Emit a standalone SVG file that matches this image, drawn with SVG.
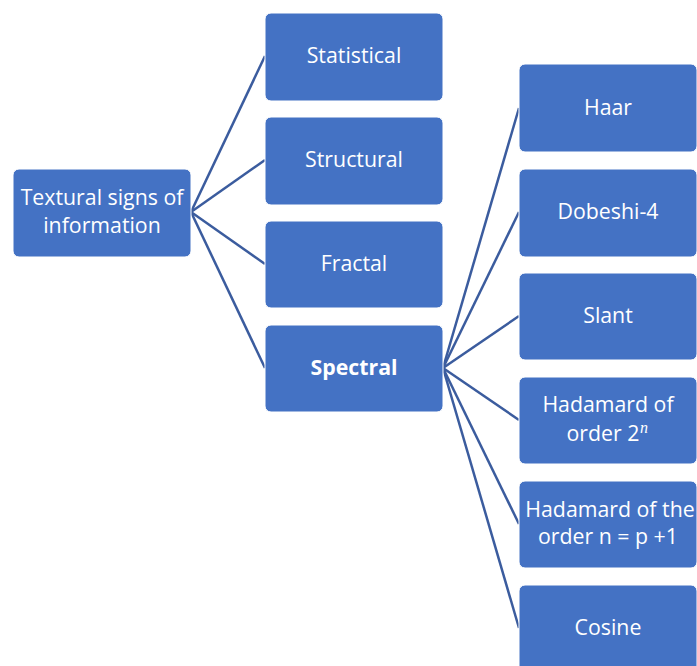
<svg xmlns="http://www.w3.org/2000/svg" width="697" height="666" viewBox="0 0 697 666">
<style>
.box{fill:#4472C4;stroke:#ffffff;stroke-width:1}
.t{font-family:"Open Sans","Liberation Sans",sans-serif;font-size:21.3px;fill:#ffffff;text-anchor:middle}
.b{font-weight:bold}
.c line{stroke:#3B5C9E;stroke-width:2.5;fill:none}
</style>
<rect width="697" height="666" fill="#ffffff"/>
<g class="c" id="connectors">
<line x1="191" y1="212" x2="265" y2="56"/>
<line x1="191" y1="212" x2="265" y2="160"/>
<line x1="191" y1="212" x2="265" y2="264"/>
<line x1="191" y1="212" x2="265" y2="368"/>
<line x1="443" y1="368" x2="519" y2="108"/>
<line x1="443" y1="368" x2="519" y2="212"/>
<line x1="443" y1="368" x2="519" y2="316"/>
<line x1="443" y1="368" x2="519" y2="420"/>
<line x1="443" y1="368" x2="519" y2="524"/>
<line x1="443" y1="368" x2="519" y2="628"/>
</g>
<g id="root"><rect class="box" x="13" y="169" width="178" height="88" rx="6"/><text class="t" x="102" y="205">Textural signs of</text><text class="t" x="102" y="233">information</text></g>
<g id="statistical"><rect class="box" x="265" y="13" width="178" height="88" rx="6"/><text class="t" x="354" y="63">Statistical</text></g>
<g id="structural"><rect class="box" x="265" y="117" width="178" height="88" rx="6"/><text class="t" x="354" y="167">Structural</text></g>
<g id="fractal"><rect class="box" x="265" y="221" width="178" height="87" rx="6"/><text class="t" x="354" y="271">Fractal</text></g>
<g id="spectral"><rect class="box" x="265" y="325" width="178" height="87" rx="6"/><text class="t b" x="354" y="375">Spectral</text></g>
<g id="haar"><rect class="box" x="519" y="64" width="178" height="88" rx="6"/><text class="t" x="608" y="115">Haar</text></g>
<g id="dobeshi"><rect class="box" x="519" y="169" width="178" height="88" rx="6"/><text class="t" x="608" y="219">Dobeshi-4</text></g>
<g id="slant"><rect class="box" x="519" y="273" width="178" height="87" rx="6"/><text class="t" x="608" y="323">Slant</text></g>
<g id="hadamard2n"><rect class="box" x="519" y="377" width="178" height="87" rx="6"/><text class="t" x="608" y="412">Hadamard of</text><text class="t" x="603" y="441">order 2</text><text x="640" y="433" font-family="Liberation Serif,serif" font-style="italic" font-size="16" fill="#ffffff">n</text></g>
<g id="hadamardp1"><rect class="box" x="519" y="481" width="178" height="87" rx="6"/><text class="t" x="610" y="517">Hadamard of the</text><text class="t" x="608" y="544">order n = p +1</text></g>
<g id="cosine"><rect class="box" x="519" y="585" width="178" height="88" rx="6"/><text class="t" x="608" y="635">Cosine</text></g>
</svg>
